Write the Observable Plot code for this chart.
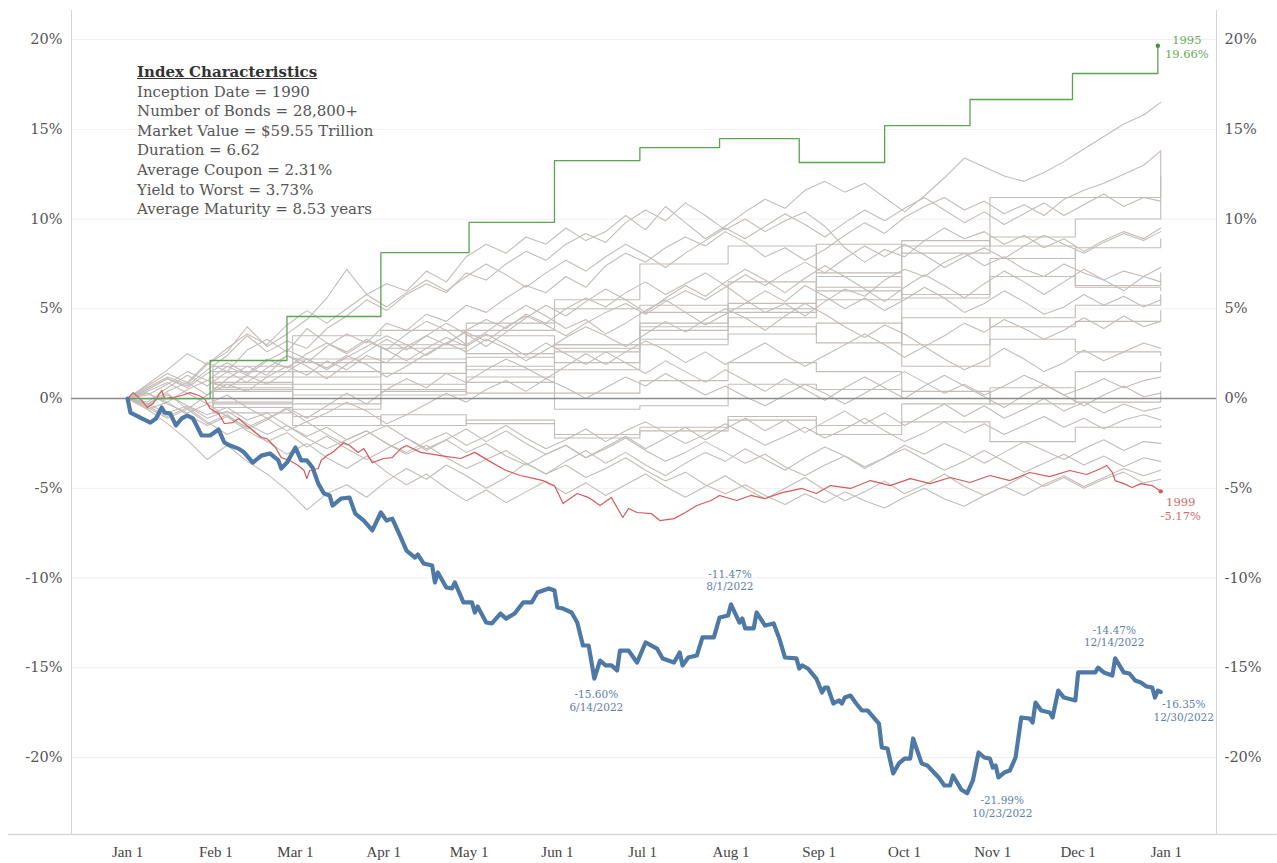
<!DOCTYPE html>
<html>
<head>
<meta charset="utf-8">
<script src="https://cdn.jsdelivr.net/npm/d3@7"></script>
<script src="https://cdn.jsdelivr.net/npm/@observablehq/plot@0.6"></script>
<style>
  html, body { margin: 0; padding: 0; background: #fff; }
  #wrap { position: relative; width: 1277px; height: 863px; }
  #notes { position: absolute; left: 137px; top: 63px; font-family: "DejaVu Serif", serif; font-size: 15px; line-height: 19.6px; color: #555; white-space: nowrap; }
  #notes .t { font-weight: bold; text-decoration: underline; color: #333; }
</style>
</head>
<body>
<div id="wrap">
  <div id="chart"></div>
  <div id="notes"></div>
</div>
<script>
// ---------- data ----------
const noteTitle = "Index Characteristics";
const noteLines = [
  "Inception Date = 1990",
  "Number of Bonds = 28,800+",
  "Market Value = $59.55 Trillion",
  "Duration = 6.62",
  "Average Coupon = 2.31%",
  "Yield to Worst = 3.73%",
  "Average Maturity = 8.53 years"
];

const yTicks = [-20, -15, -10, -5, 0, 5, 10, 15, 20];
const monthTicks = ["2022-01-01","2022-02-01","2022-03-01","2022-04-01","2022-05-01","2022-06-01","2022-07-01","2022-08-01","2022-09-01","2022-10-01","2022-11-01","2022-12-01","2023-01-01"];

// 2022 (blue): day of year (0 = Jan 1), return %
const blueDays = [0,1,5,8,10,12,13,15,17,19,21,23,26,29,32,34,36,39,41,44,47,50,53,54,56,59,61,63,65,67,69,71,72,75,78,80,83,86,89,91,93,96,98,101,102,104,107,108,109,112,114,115,118,121,122,123,126,128,131,133,136,139,142,144,148,150,151,153,156,158,160,162,164,166,168,170,172,173,176,179,182,186,188,192,194,195,197,200,202,206,208,211,212,215,216,217,220,221,224,227,229,231,235,236,237,239,242,244,245,246,248,250,251,252,254,256,258,260,264,265,267,269,271,273,275,276,279,281,285,287,289,290,293,295,297,299,301,303,304,305,306,308,310,312,314,317,318,319,321,324,325,327,329,333,334,340,341,343,346,347,350,352,354,356,358,360,361,362,363];
const blueValues = [0,-0.78,-1.11,-1.34,-1.11,-0.50,-0.78,-0.84,-1.50,-1.11,-0.95,-1.11,-2.06,-2.06,-1.73,-2.45,-2.62,-2.79,-3.01,-3.57,-3.18,-3.06,-3.45,-3.90,-3.57,-2.73,-3.45,-3.45,-3.84,-4.74,-5.29,-5.40,-5.96,-5.57,-5.52,-6.41,-6.80,-7.35,-6.35,-6.80,-6.69,-7.74,-8.47,-8.86,-8.69,-9.19,-9.30,-10.25,-9.69,-10.53,-10.58,-10.25,-11.36,-11.36,-11.92,-11.59,-12.48,-12.53,-11.98,-12.26,-11.98,-11.36,-11.36,-10.81,-10.58,-10.70,-11.64,-11.70,-11.92,-12.48,-13.76,-13.76,-15.60,-14.60,-14.87,-14.87,-15.15,-14.04,-14.04,-14.71,-13.59,-13.93,-14.48,-14.71,-14.15,-14.87,-14.43,-14.32,-13.31,-13.31,-12.20,-12.09,-11.47,-12.48,-12.26,-12.81,-12.81,-11.92,-12.65,-12.53,-13.37,-14.43,-14.48,-15.04,-14.87,-15.04,-15.60,-16.38,-16.10,-16.10,-16.99,-16.82,-16.99,-16.66,-16.55,-16.99,-17.38,-17.38,-18.11,-19.44,-19.50,-20.89,-20.33,-20.06,-20.06,-18.94,-20.33,-20.45,-21.11,-21.56,-21.56,-21.00,-21.80,-21.99,-21.28,-19.72,-20.00,-20.06,-20.56,-20.45,-21.11,-20.84,-20.72,-20.00,-17.77,-17.83,-18.05,-16.94,-17.38,-17.49,-17.77,-16.27,-16.66,-16.82,-15.26,-15.26,-14.99,-15.26,-15.43,-14.47,-15.26,-15.32,-15.71,-15.82,-16.04,-16.10,-16.66,-16.27,-16.35];

// 2022 call-outs
const annDays = [164, 212, 295, 347, 363];
const annValues = [-15.60, -11.47, -21.99, -14.47, -16.35];
const annDates = ["6/14/2022", "8/1/2022", "10/23/2022", "12/14/2022", "12/30/2022"];

// 1999 (red)
const redDays = [0,2,5,7,9,12,13,16,19,22,25,27,29,32,34,37,39,41,44,47,49,52,54,57,60,62,63,64,67,68,70,72,76,78,81,83,86,90,93,96,98,103,110,117,122,128,133,138,143,146,148,150,153,158,162,166,170,174,176,179,184,187,192,196,200,205,208,214,219,224,230,237,242,247,254,261,268,275,282,289,296,303,310,317,324,331,337,342,344,346,347,350,353,356,360,363];
const redValues = [0,0.33,-0.11,-0.50,-0.28,0.45,0,0.06,0.17,0.33,0.17,0,-0.56,-0.84,-1.39,-1.34,-1.11,-1.39,-1.78,-2.17,-2.23,-2.73,-3.29,-3.45,-3.73,-4.01,-4.46,-4.01,-3.90,-3.45,-3.18,-3.01,-2.45,-2.62,-3.01,-2.79,-3.57,-3.34,-3.29,-2.79,-2.62,-3.00,-3.18,-3.34,-3.00,-3.57,-4.01,-4.29,-4.46,-4.57,-4.74,-4.85,-5.85,-5.29,-5.52,-5.96,-5.52,-6.63,-6.13,-6.35,-6.41,-6.80,-6.69,-6.35,-5.96,-5.68,-5.40,-5.68,-5.40,-5.57,-5.24,-5.01,-5.29,-4.85,-5.01,-4.57,-4.85,-4.46,-4.74,-4.40,-4.68,-4.29,-4.57,-4.12,-4.35,-4.01,-4.23,-3.90,-3.73,-4.12,-4.57,-4.74,-4.96,-4.74,-4.85,-5.17];

// 1995 (green), month-end levels
const greenDays = [0, 29, 56, 89, 120, 150, 180, 208, 236, 266, 296, 332, 362];
const greenValues = [0, 2.12, 4.57, 8.13, 9.81, 13.26, 13.98, 14.48, 13.15, 15.21, 16.66, 18.11, 19.66];

// other years (gray), weekly readings
const grayDays = [0,7,14,21,28,35,42,49,56,63,70,77,84,91,98,105,112,119,126,133,140,147,154,161,168,175,182,189,196,203,210,217,224,231,238,245,252,259,266,273,280,287,294,301,308,315,322,329,336,343,350,357,363];
const g1 = [0,0.6,1.2,0.8,1.9,2.6,4.0,2.9,3.6,4.4,5.6,7.2,5.8,6.4,6.0,7.1,6.5,7.9,8.6,8.1,9.0,8.6,9.5,8.8,9.3,10.2,9.4,10.7,9.8,8.9,9.6,10.4,11.1,10.6,11.6,12.1,11.5,12.0,11.2,10.4,11.3,12.3,13.4,12.9,12.4,12.1,12.6,13.2,13.9,14.6,15.3,15.8,16.5];
const g2 = [0,-0.3,0.4,0.9,0.2,1.1,1.8,1.3,2.4,2.0,2.9,3.6,3.1,4.2,3.8,4.7,4.3,5.2,4.8,5.6,6.3,5.9,6.8,6.2,7.4,8.1,7.6,8.4,9.0,8.5,9.3,8.7,7.9,8.4,7.7,8.3,9.1,9.8,9.2,10.1,10.7,11.2,10.5,11.0,10.3,10.8,10.2,11.1,11.6,12.0,12.5,13.0,13.8];
const g3 = [0,0.5,1.1,0.7,1.6,2.4,3.5,2.6,3.2,2.8,3.9,4.6,5.5,4.9,5.8,6.4,5.9,7.0,6.6,7.5,8.2,7.7,8.6,9.2,8.7,9.8,10.5,9.9,10.9,10.2,9.4,10.0,9.3,9.9,10.4,9.6,8.4,7.6,8.3,7.9,8.8,9.5,8.9,9.3,8.6,9.1,8.4,8.9,8.2,8.8,9.3,8.9,9.5];
const g4 = [0,-0.4,0.3,-0.6,0.2,0.8,0.4,1.2,1.8,1.3,2.1,1.6,2.4,2.0,2.9,3.5,3.0,3.8,4.4,3.9,4.7,4.2,5.0,5.6,5.1,5.9,6.5,5.8,6.4,7.0,6.3,5.5,4.8,5.3,4.6,5.4,6.1,5.7,6.6,7.2,6.8,7.6,8.1,7.4,7.9,7.2,6.8,7.5,7.0,6.6,7.1,6.8,7.3];
const g5 = [0,0.7,1.4,0.9,2.0,1.5,2.7,3.3,2.6,3.9,3.1,2.5,3.2,2.7,3.6,4.3,3.8,3.0,3.7,4.5,5.2,4.6,3.9,4.4,3.6,4.2,4.9,5.5,4.8,4.1,4.7,5.3,6.0,5.4,6.3,5.7,5.0,5.6,4.9,5.5,6.2,5.6,4.8,5.3,6.0,5.4,4.7,5.1,5.8,5.2,5.7,5.1,5.5];
const g6 = [0,0.3,-0.2,0.5,1.0,0.6,1.3,0.8,1.5,2.2,1.7,2.4,1.9,1.2,1.8,2.5,3.1,2.6,3.3,2.8,2.1,2.7,3.4,4.0,3.5,2.9,3.6,4.3,3.7,4.4,5.0,4.5,3.8,4.6,5.3,4.7,4.0,3.4,4.1,3.6,2.9,3.5,4.2,3.7,4.4,3.9,3.3,3.8,4.5,3.9,4.6,4.0,4.3];
const g7 = [0,-0.5,-1.1,-0.6,-1.4,-0.9,-1.7,-1.2,-0.5,-1.1,-0.4,0.3,-0.3,0.5,1.1,0.6,1.4,0.9,1.6,2.2,1.7,1.1,1.8,2.5,1.9,2.6,3.2,2.7,2.0,2.6,1.9,2.5,3.1,2.4,1.8,2.4,3.0,3.6,3.0,2.3,2.9,2.2,1.6,2.1,2.8,2.2,1.5,2.0,2.7,2.1,2.6,3.1,2.8];
const g8 = [0,0.4,0.9,0.3,-0.3,0.2,-0.5,-1.1,-0.6,-1.3,-0.8,-0.2,-0.7,-1.4,-0.9,-0.3,0.3,-0.2,0.5,1.0,0.4,1.1,0.6,0.0,0.6,1.2,0.7,1.4,0.8,0.2,0.7,0.1,-0.4,0.2,0.8,0.3,-0.3,0.3,0.9,1.5,0.9,0.3,0.8,0.2,0.7,1.3,0.8,0.2,0.6,1.1,0.6,1.0,1.2];
const g9 = [0,-0.3,0.2,-0.4,-0.9,-0.5,-1.2,-0.8,-1.5,-2.1,-1.6,-2.3,-1.8,-2.5,-3.0,-2.4,-1.9,-2.6,-2.1,-1.5,-2.2,-2.8,-2.3,-1.7,-2.4,-1.8,-1.3,-1.9,-2.5,-2.0,-1.4,-2.0,-2.6,-2.1,-1.6,-2.2,-1.7,-1.1,-1.8,-2.4,-1.9,-1.3,-1.9,-1.4,-2.0,-1.5,-1.0,-1.6,-1.1,-1.7,-1.2,-0.9,-1.2];
const g10 = [0,-0.6,-1.4,-2.3,-3.4,-2.6,-3.5,-4.2,-5.1,-6.2,-5.3,-4.8,-5.5,-4.6,-3.9,-4.5,-3.7,-4.3,-5.0,-4.4,-3.6,-4.2,-3.5,-2.9,-3.6,-3.0,-3.7,-4.3,-3.6,-3.0,-3.5,-2.8,-3.4,-4.0,-3.3,-2.7,-3.2,-3.9,-3.3,-2.6,-3.1,-2.5,-3.0,-3.6,-3.0,-2.4,-2.9,-3.4,-2.8,-2.3,-2.9,-2.4,-2.5];
const g11 = [0,-0.4,-1.0,-0.5,-1.3,-2.0,-1.5,-2.4,-3.1,-2.5,-3.3,-3.9,-3.2,-4.1,-4.8,-4.2,-5.0,-5.7,-5.1,-5.8,-5.2,-4.6,-5.3,-4.7,-5.4,-4.8,-4.2,-4.9,-5.5,-4.9,-4.3,-5.0,-5.6,-5.0,-4.4,-5.1,-5.7,-5.2,-4.6,-5.3,-4.8,-4.2,-4.9,-5.4,-4.9,-4.3,-4.9,-4.4,-5.0,-4.5,-4.1,-4.7,-4.5];
const g12 = [0,0.3,-0.3,-0.8,-0.3,-1.0,-1.6,-1.1,-1.8,-1.3,-2.0,-2.6,-2.0,-1.5,-2.2,-2.8,-2.3,-3.0,-2.5,-3.2,-3.7,-3.1,-2.6,-3.3,-2.8,-2.2,-2.9,-3.5,-3.0,-2.4,-3.0,-3.6,-3.1,-3.8,-4.3,-3.7,-3.2,-3.8,-3.3,-2.8,-3.4,-4.0,-3.5,-2.9,-3.5,-4.1,-3.6,-3.1,-3.7,-3.2,-3.8,-3.3,-3.5];
const g13 = [0,0.2,0.8,1.5,1.0,1.8,1.3,2.1,2.7,2.2,1.6,2.3,2.9,3.5,3.0,2.4,3.1,3.7,3.2,4.0,4.6,4.1,3.5,4.2,4.8,5.3,4.7,5.4,6.0,5.5,6.2,6.9,6.3,7.0,7.6,7.0,7.8,8.5,7.9,8.6,8.0,7.3,7.9,8.4,7.8,8.5,9.1,8.6,8.1,8.7,9.2,8.8,9.3];
const g14 = [0,0.5,1.1,0.6,1.4,2.0,1.4,2.2,1.7,2.5,3.1,2.6,3.3,2.7,2.1,2.8,3.4,2.9,3.6,3.0,2.4,3.1,2.5,1.9,2.6,2.0,1.4,2.1,1.5,0.9,1.6,1.0,0.4,1.1,0.5,-0.1,0.6,1.2,0.6,0.0,0.7,1.3,0.7,0.1,-0.5,0.2,0.8,0.2,-0.4,0.2,0.7,0.1,0.3];
const g15 = [0,0.8,1.6,2.5,1.9,2.8,3.6,3.0,4.1,4.9,4.2,5.0,5.8,5.1,5.9,6.6,6.0,6.8,7.5,6.9,6.2,7.0,7.7,7.1,7.9,8.6,8.0,7.3,8.1,8.8,9.5,8.9,9.6,10.3,9.7,9.0,9.8,10.5,9.9,10.6,11.2,10.5,9.8,10.4,9.7,10.3,10.9,10.2,10.8,11.4,10.7,11.2,11.0];
const g16 = [0,-0.2,0.6,1.3,0.7,1.5,0.9,1.7,2.4,1.8,1.1,1.9,2.6,3.3,2.7,3.5,4.2,3.6,2.9,3.7,4.5,5.2,4.6,5.4,6.1,5.5,4.8,5.6,6.3,5.7,6.5,7.2,6.6,5.9,6.7,7.4,6.8,6.1,5.4,6.2,6.9,6.3,5.6,6.4,7.1,6.5,5.8,6.5,7.2,6.6,6.0,6.8,6.5];
const g17 = [0,-0.6,-0.2,-0.9,-1.5,-1.0,-1.8,-2.4,-1.9,-2.7,-2.1,-2.8,-3.4,-2.8,-2.2,-2.9,-2.3,-1.7,-2.4,-1.8,-2.5,-3.1,-2.6,-3.3,-2.7,-2.1,-2.8,-2.2,-1.6,-2.3,-1.7,-1.1,-1.8,-1.2,-1.9,-1.3,-0.7,-1.4,-0.8,-1.5,-0.9,-0.3,-1.0,-0.4,-1.1,-0.6,0.0,-0.7,-0.2,-0.8,-0.3,-0.7,-0.5];
const g18 = [0,-0.3,-0.8,-0.4,-1.1,-0.7,-1.4,-2.0,-1.5,-2.2,-2.8,-2.3,-1.8,-2.5,-3.1,-2.6,-3.3,-3.9,-3.4,-2.9,-3.6,-4.2,-3.7,-4.4,-3.9,-3.3,-4.0,-4.6,-4.1,-4.8,-5.3,-4.8,-5.4,-5.9,-5.3,-5.8,-5.2,-5.7,-6.1,-5.5,-5.0,-5.6,-6.0,-5.4,-4.9,-5.4,-4.8,-4.3,-4.9,-4.4,-3.9,-4.3,-4.0];

// other years with month-end readings only (gray, stepped)
const monthDays = [0,30,58,89,119,150,180,211,242,272,303,333,363];
const m1 = [0,1.2,2.0,3.0,4.2,5.5,7.5,8.5,7.0,8.5,11.2,11.2,12.4];
const m2 = [0,0.8,2.2,2.8,3.8,5.0,5.2,5.0,8.6,8.1,9.0,10.0,13.8];
const m3 = [0,0.5,1.5,2.0,1.6,2.6,3.8,6.5,6.0,5.8,6.8,6.3,7.0];
const m4 = [0,-0.2,0.8,0.5,1.8,3.0,4.8,5.3,6.8,3.0,4.5,5.2,5.8];
const m5 = [0,1.5,1.2,2.2,3.5,2.8,4.0,4.5,5.5,8.8,8.5,6.2,6.0];
const m6 = [0,0.6,0.2,0.8,1.2,0.3,1.0,2.0,1.5,0.4,-0.3,1.5,2.0];
const m7 = [0,-0.5,-1.0,-1.5,-1.2,-2.0,-1.8,-1.0,-1.5,-0.3,0.0,0.0,0.4];
const m8 = [0,0.4,-0.3,0.2,0.9,1.6,3.0,3.6,4.2,1.8,3.3,2.6,2.4];
const m9 = [0,0.9,0.5,1.4,2.3,2.0,3.3,4.0,3.1,4.5,4.0,4.3,4.9];
const m10 = [0,-0.8,-1.5,-0.9,-1.4,-2.2,-1.6,-1.2,-2.0,-1.3,-2.4,-1.6,-1.5];
const m11 = [0,1.8,3.5,3.8,2.5,3.0,4.2,4.8,6.2,5.6,7.8,8.4,8.9];
const m12 = [0,-0.3,-0.6,0.4,0.3,-0.6,-0.4,0.8,0.5,0.0,0.6,-0.2,0.1];

// ---------- build ----------
const T0 = Date.UTC(2022, 0, 1);
const toDate = d => new Date(T0 + d * 864e5);

const grayDaily = [g1,g2,g3,g4,g5,g6,g7,g8,g9,g10,g11,g12,g13,g14,g15,g16,g17,g18];
const grayMonthly = [m1,m2,m3,m4,m5,m6,m7,m8,m9,m10,m11,m12];
const grayRows = grayDaily.flatMap((vals, i) => vals.slice(0, grayDays.length).map((v, j) => ({date: toDate(grayDays[j]), v, s: "d" + i})));
const grayStepRows = grayMonthly.flatMap((vals, i) => vals.map((v, j) => ({date: toDate(monthDays[j]), v, s: "m" + i})));
const blue = blueDays.map((d, i) => ({date: toDate(d), v: blueValues[i]}));
const red = redDays.map((d, i) => ({date: toDate(d), v: redValues[i]}));
const green = greenDays.map((d, i) => ({date: toDate(d), v: greenValues[i]}));
const ann = annDays.map((d, i) => ({date: toDate(d), v: annValues[i], label: annValues[i].toFixed(2) + "%\n" + annDates[i]}));

const xDomain = [toDate(-19.7), toDate(382.6)];
const yDomain = [-24.29, 21.62];
const fmtMonth = d3.utcFormat("%b %-d");

const blueText = "#5d7fa8";
const annMark = (i, opts) => Plot.text([ann[i]], {x: "date", y: "v", text: "label", fill: blueText, fontSize: 10.5, lineHeight: 1.2, ...opts});

const chart = Plot.plot({
  width: 1277,
  height: 863,
  marginLeft: 71,
  marginRight: 61,
  marginTop: 10,
  marginBottom: 29,
  style: {fontFamily: "'DejaVu Serif', serif", background: "#fff", color: "#555"},
  x: {type: "utc", domain: xDomain},
  y: {domain: yDomain},
  marks: [
    Plot.gridY(yTicks, {stroke: "#efefef", strokeOpacity: 1}),
    Plot.frame({anchor: "left", stroke: "#d4d4d4"}),
    Plot.frame({anchor: "right", stroke: "#d4d4d4"}),
    Plot.ruleY([yDomain[0]], {x1: toDate(-41.8), x2: toDate(404), stroke: "#d8d8d8", strokeWidth: 1.5}),
    Plot.axisY(yTicks, {anchor: "left", tickSize: 0, tickPadding: 9, tickFormat: d => d + "%", label: null, fontSize: 14.5, fill: "#555"}),
    Plot.axisY(yTicks, {anchor: "right", tickSize: 0, tickPadding: 8, tickFormat: d => d + "%", label: null, fontSize: 14.5, fill: "#555"}),
    Plot.axisX(monthTicks.map(s => new Date(s + "T00:00:00Z")), {anchor: "bottom", tickSize: 0, tickPadding: 12, tickFormat: fmtMonth, label: null, fontSize: 15, fontFamily: "'Liberation Serif', serif", fill: "#444"}),
    Plot.line(grayStepRows, {x: "date", y: "v", z: "s", curve: "step-after", stroke: "#c4bcb8", strokeWidth: 1.1}),
    Plot.line(grayRows, {x: "date", y: "v", z: "s", stroke: "#c4bcb8", strokeWidth: 1.1}),
    Plot.ruleY([0], {stroke: "#8c8c8c", strokeWidth: 1.6}),
    Plot.line(red, {x: "date", y: "v", stroke: "#d65a5c", strokeWidth: 1.2}),
    Plot.line(green, {x: "date", y: "v", curve: "step-after", stroke: "#5aa350", strokeWidth: 1.3}),
    Plot.dot([red[red.length - 1]], {x: "date", y: "v", r: 2.2, fill: "#d65a5c"}),
    Plot.dot([green[green.length - 1]], {x: "date", y: "v", r: 2.2, fill: "#4f8a47"}),
    Plot.line(blue, {x: "date", y: "v", stroke: "#4e79a7", strokeWidth: 4.2, strokeLinejoin: "round", strokeLinecap: "round"}),
    Plot.text([green[green.length - 1]], {x: "date", y: "v", text: d => "1995\n" + d.v.toFixed(2) + "%", fill: "#6aaa5e", fontSize: 11.5, lineHeight: 1.15, dx: 29, dy: 1}),
    Plot.text([red[red.length - 1]], {x: "date", y: "v", text: d => "1999\n" + d.v.toFixed(2) + "%", fill: "#d8696a", fontSize: 11.5, lineHeight: 1.2, lineAnchor: "top", dx: 20, dy: 5}),
    annMark(0, {lineAnchor: "top", dx: 2, dy: 11}),
    annMark(1, {lineAnchor: "bottom", dx: -1, dy: -14}),
    annMark(2, {lineAnchor: "top", dx: 35, dy: 2}),
    annMark(3, {lineAnchor: "bottom", dx: -1, dy: -12}),
    annMark(4, {lineAnchor: "top", dx: 23, dy: 7})
  ]
});
document.getElementById("chart").appendChild(chart);

const notes = document.getElementById("notes");
const t = document.createElement("div");
t.className = "t";
t.textContent = noteTitle;
notes.appendChild(t);
for (const line of noteLines) {
  const el = document.createElement("div");
  el.textContent = line;
  notes.appendChild(el);
}
</script>
</body>
</html>
